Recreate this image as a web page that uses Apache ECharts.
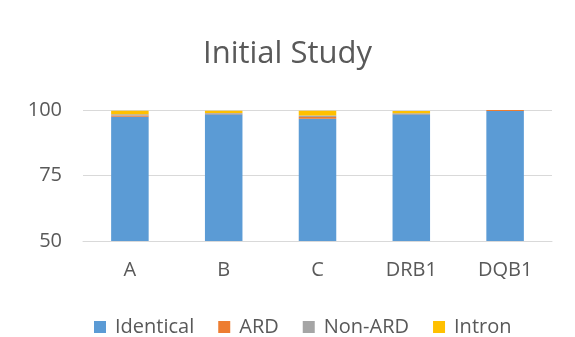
<!DOCTYPE html>
<html>
<head>
<meta charset="utf-8">
<script src="https://cdn.jsdelivr.net/npm/echarts@6/dist/echarts.min.js"></script>
<style>
  html, body { margin: 0; padding: 0; background: #fff; }
  #chart { width: 575px; height: 337px; }
</style>
</head>
<body>
<div id="chart"></div>
<script>
// Stacked percentages per locus
const categories = ['A', 'B', 'C', 'DRB1', 'DQB1'];
const identical = [97.4, 98.4, 96.7, 98.4, 99.6];
const ard       = [0.5, 0.2, 0.6, 0.1, 0.4];
const nonArd    = [0.5, 0.3, 0.6, 0.3, 0.0];
const intron    = [1.3, 0.8, 1.8, 0.8, 0.0];
const yTicks = [50, 75, 100];

const font = '"Open Sans", sans-serif';
const textColor = '#595959';

const seriesDefs = [
  { name: 'Identical', data: identical, color: '#5B9BD5' },
  { name: 'ARD', data: ard, color: '#ED7D31' },
  { name: 'Non-ARD', data: nonArd, color: '#A5A5A5' },
  { name: 'Intron', data: intron, color: '#FFC000' }
];

const chart = echarts.init(document.getElementById('chart'), null, { renderer: 'canvas' });
chart.setOption({
  animation: false,
  title: {
    text: 'Initial Study',
    left: 'center',
    top: 34,
    textStyle: { fontFamily: font, fontSize: 31, fontWeight: 'normal', color: textColor }
  },
  legend: {
    top: 312,
    left: 89,
    itemWidth: 12,
    itemHeight: 12,
    itemGap: 24,
    icon: 'rect',
    textStyle: { fontFamily: font, fontSize: 20, color: textColor, padding: [0, 0, 0, 4] },
    data: seriesDefs.map(s => s.name)
  },
  grid: { left: 83, right: 23, top: 110, bottom: 96, containLabel: false },
  xAxis: {
    type: 'category',
    data: categories,
    axisLine: { lineStyle: { color: '#D9D9D9', width: 1 } },
    axisTick: { show: false },
    axisLabel: { fontFamily: font, fontSize: 20, color: textColor, margin: 19 }
  },
  yAxis: {
    type: 'value',
    min: yTicks[0],
    max: yTicks[yTicks.length - 1],
    interval: yTicks[1] - yTicks[0],
    axisLine: { show: false },
    axisTick: { show: false },
    splitLine: { lineStyle: { color: '#D9D9D9', width: 1 } },
    axisLabel: { fontFamily: font, fontSize: 20, color: textColor, margin: 21 }
  },
  series: seriesDefs.map(s => ({
    name: s.name,
    type: 'bar',
    stack: 'total',
    barWidth: '40%',
    data: s.data,
    itemStyle: { color: s.color }
  }))
});
</script>
</body>
</html>
